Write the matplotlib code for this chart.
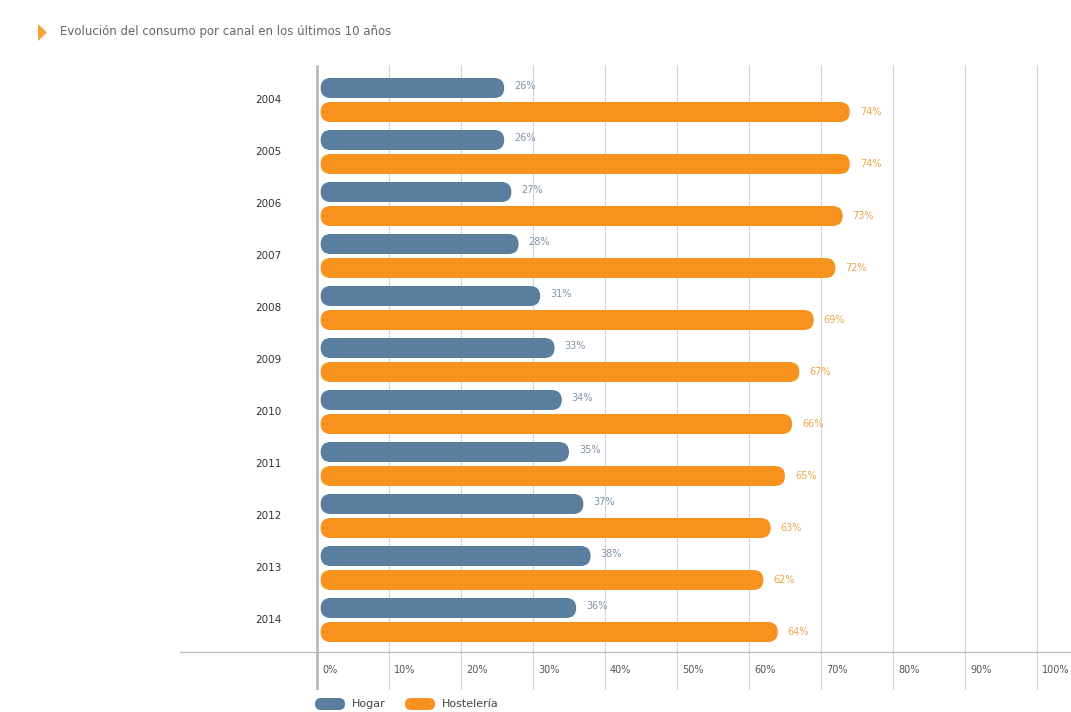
import matplotlib
matplotlib.use("Agg")
import matplotlib.pyplot as plt
from matplotlib.patches import FancyBboxPatch, Polygon

years = ["2004", "2005", "2006", "2007", "2008", "2009", "2010", "2011", "2012", "2013", "2014"]
hogar = [26, 26, 27, 28, 31, 33, 34, 35, 37, 38, 36]
hosteleria = [74, 74, 73, 72, 69, 67, 66, 65, 63, 62, 64]
ticks = [0, 10, 20, 30, 40, 50, 60, 70, 80, 90, 100]

blue = "#5a7f9e"
orange = "#f7921e"
grid_c = "#d4d4d4"
text_c = "#555555"

W, H = 1071, 712
fig = plt.figure(figsize=(W / 100, H / 100), dpi=100)
ax = fig.add_axes([180 / W, 1 - 690 / H, 1 - 180 / W, (690 - 65) / H])

# pixel scale: 7.2 px per percent, 52 px per year row
x0, x1 = (180 - 317) / 7.2, (1071 - 317) / 7.2
y_top, y_bot = (65 - 100) / 52, (690 - 100) / 52
ax.set_xlim(x0, x1)
ax.set_ylim(y_bot, y_top)
ax.axis("off")

px_x = 1 / 7.2
px_y = 1 / 52
bar_h = 20 * px_y
r = 10 * px_x
asp = px_y / px_x

def pill(x, yc, w, color):
    p = FancyBboxPatch((x, yc - bar_h / 2), w, bar_h,
                       boxstyle=f"round,pad=0,rounding_size={r}",
                       mutation_aspect=asp, fc=color, ec="none", zorder=3)
    ax.add_patch(p)

# gridlines
axis_y = (652 - 100) / 52
for t in ticks:
    ax.plot([t, t], [y_top, y_bot], color=grid_c if t else "#b8b8b8",
            lw=0.8 if t else 2.0, zorder=1, solid_capstyle="butt")
    ax.text(t + 5 * px_x, (670 - 100) / 52, f"{t}%", fontsize=7, color=text_c,
            ha="left", va="center")
ax.plot([x0, x1], [axis_y, axis_y], color="#bbbbbb", lw=0.9, zorder=1)

for i, yr in enumerate(years):
    yh = i - 12 * px_y
    yo = i + 12 * px_y
    pill(0.5, yh, hogar[i] - 0.5, blue)
    pill(0.5, yo, hosteleria[i] - 0.5, orange)
    ax.text(hogar[i] + 10 * px_x, yh - 2 * px_y, f"{hogar[i]}%", fontsize=7,
            color="#7c93a8", ha="left", va="center")
    ax.text(hosteleria[i] + 10 * px_x, yo, f"{hosteleria[i]}%", fontsize=7,
            color="#f0a447", ha="left", va="center")
    ax.text(-35 * px_x, i, yr, fontsize=7.5, color="#333333", ha="right", va="center")

# title with orange marker
fig.patches.append(Polygon([[38 / W, 1 - 24 / H], [38 / W, 1 - 41 / H], [47 / W, 1 - 32.5 / H]],
                           closed=True, transform=fig.transFigure, fc="#f2a33a", ec="none"))
fig.text(60 / W, 1 - 32 / H, "Evolución del consumo por canal en los últimos 10 años",
         fontsize=8.5, color="#666666", ha="left", va="center")

# legend
def leg_pill(xp, color):
    fig.patches.append(FancyBboxPatch((xp / W, 1 - 710 / H), 30 / W, 12 / H,
                                      boxstyle=f"round,pad=0,rounding_size={6 / W}",
                                      mutation_aspect=W / H, transform=fig.transFigure,
                                      fc=color, ec="none"))

leg_pill(315, blue)
fig.text(352 / W, 1 - 704 / H, "Hogar", fontsize=8, color="#444444", va="center")
leg_pill(405, orange)
fig.text(442 / W, 1 - 704 / H, "Hostelería", fontsize=8, color="#444444", va="center")

fig.savefig("out.png", dpi=100)
